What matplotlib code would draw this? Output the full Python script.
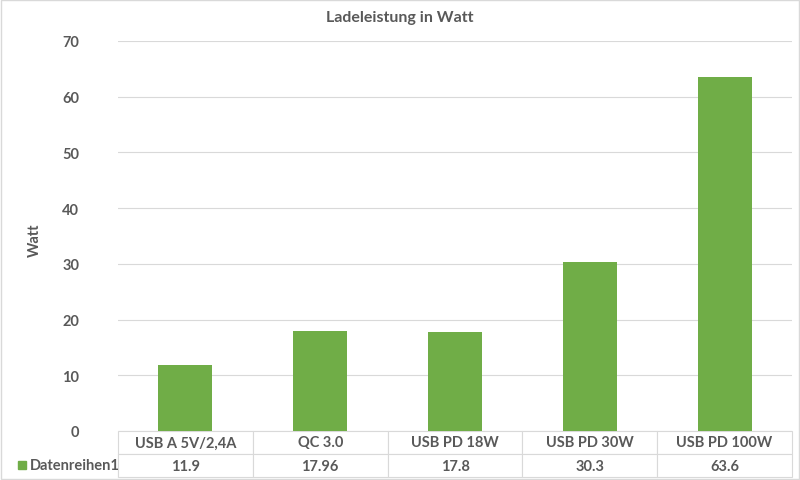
import matplotlib.pyplot as plt
from matplotlib.patches import Rectangle

categories = ["USB A 5V/2,4A", "QC 3.0", "USB PD 18W", "USB PD 30W", "USB PD 100W"]
values = [11.9, 17.96, 17.8, 30.3, 63.6]
value_labels = ["11.9", "17.96", "17.8", "30.3", "63.6"]
series_name = "Datenreihen1"

green = "#70ad47"
text_gray = "#595959"
line_gray = "#d9d9d9"

plt.rcParams["font.family"] = ["Lato", "DejaVu Sans"]
plt.rcParams["font.weight"] = "bold"

fig = plt.figure(figsize=(8, 4.81), dpi=100)
ax = fig.add_axes([0.1475, 0.1019, 0.8425, 0.8108])

x = range(len(categories))
ax.bar(x, values, width=0.4, color=green, zorder=3)
ax.set_xlim(-0.5, len(categories) - 0.5)
ax.set_ylim(0, 70)
ax.set_yticks(range(0, 71, 10))
ax.set_xticks([])
ax.grid(axis="y", color=line_gray, linewidth=0.8, zorder=0)
for s in ax.spines.values():
    s.set_visible(False)
ax.tick_params(axis="y", length=0, pad=28, labelsize=10.5, labelcolor=text_gray)
for lbl in ax.get_yticklabels():
    lbl.set_fontweight("bold")

fig.text(35 / 800, 1 - 240 / 481, "Watt", rotation=90, ha="center", va="center",
         fontsize=10.5, color=text_gray, fontweight="bold")
fig.text(0.5, 0.962, "Ladeleistung in Watt", ha="center", va="center",
         fontsize=11.5, color=text_gray, fontweight="bold")

# data table below the plot
tab = ax.table(cellText=[value_labels], rowLabels=[""], colLabels=categories,
               cellLoc="center", rowLoc="left", bbox=[0, -0.118, 1, 0.118])
tab.auto_set_font_size(False)
for (r, c), cell in tab.get_celld().items():
    cell.set_edgecolor(line_gray)
    cell.set_linewidth(0.8)
    cell.get_text().set_color(text_gray)
    cell.get_text().set_fontweight("bold")
    cell.get_text().set_fontsize(10.5)
    if c == -1:
        cell.set_width(105 / 674)

# series name with legend key in the row label cell
ax.text(-88 / 674, -0.088, series_name, transform=ax.transAxes, ha="left", va="center",
        fontsize=10.5, color=text_gray, fontweight="bold")
ax.add_patch(Rectangle((-100 / 674, -0.097), 8 / 674, 0.02, transform=ax.transAxes,
                       color=green, clip_on=False))

# chart border
fig.add_artist(Rectangle((0.001, 0.002), 0.998, 0.996, transform=fig.transFigure,
                         fill=False, edgecolor=line_gray, linewidth=1))

plt.savefig("out.png", dpi=100)
